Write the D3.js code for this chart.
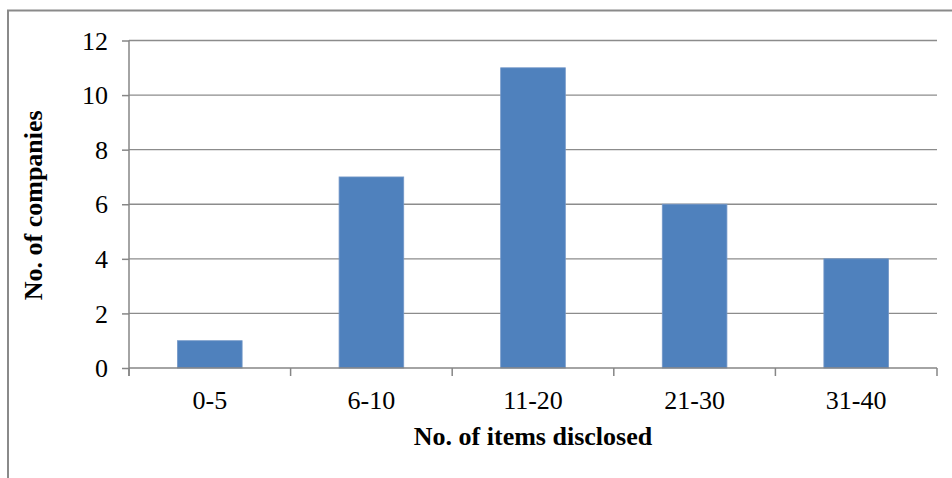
<!DOCTYPE html>
<html>
<head>
<meta charset="utf-8">
<script src="https://cdn.jsdelivr.net/npm/d3@7"></script>
<style>
  html, body { margin: 0; padding: 0; background: #fff; }
  svg { display: block; }
  text { font-family: "Liberation Serif", "Times New Roman", serif; fill: #000; }
</style>
</head>
<body>
<svg id="chart" width="952" height="478"></svg>
<script>
const categories = ["0-5", "6-10", "11-20", "21-30", "31-40"];
const values = [1, 7, 11, 6, 4];
const yTicks = [0, 2, 4, 6, 8, 10, 12];
const xTitle = "No. of items disclosed";
const yTitle = "No. of companies";

(function () {
const svg = d3.select("#chart");
const pLeft = 129, pRight = 937, pTop = 40.5, pBottom = 368;

// outer chart border (cropped at right/bottom)
svg.append("rect")
  .attr("x", 8).attr("y", 10.5)
  .attr("width", 960).attr("height", 500)
  .attr("fill", "none").attr("stroke", "#8a8a8a").attr("stroke-width", 2);

const x = d3.scaleBand().domain(categories).range([pLeft, pRight]).paddingInner(0).paddingOuter(0);
const y = d3.scaleLinear().domain([0, 12]).range([pBottom, pTop]);

// gridlines
svg.append("g").selectAll("line").data(yTicks.filter(d => d > 0)).join("line")
  .attr("x1", pLeft).attr("x2", pRight)
  .attr("y1", d => y(d)).attr("y2", d => y(d))
  .attr("stroke", "#8c8c8c").attr("stroke-width", 1.3);

// bars
const barW = x.bandwidth() / 2.5;
svg.append("g").selectAll("rect").data(values).join("rect")
  .attr("x", (d, i) => x(categories[i]) + (x.bandwidth() - barW) / 2)
  .attr("y", d => y(d))
  .attr("width", barW)
  .attr("height", d => y(0) - y(d))
  .attr("fill", "#4F81BD")
  .attr("stroke", "#7397c8").attr("stroke-width", 0.8);

// y axis
const yAxis = d3.axisLeft(y).tickValues(yTicks).tickSize(7).tickPadding(14);
const gy = svg.append("g").attr("transform", `translate(${pLeft},0)`).call(yAxis);
gy.select(".domain").attr("stroke", "#868686").attr("stroke-width", 1.5).attr("d", `M0,${pTop}V${pBottom + 8}`);
gy.selectAll(".tick line").attr("stroke", "#868686").attr("stroke-width", 1.5);
gy.selectAll(".tick text").attr("font-size", 26).attr("font-family", "Liberation Serif").attr("fill", "#000").attr("dy", "0.33em");

// x axis
const xAxis = d3.axisBottom(x).tickSize(0).tickPadding(23);
const gx = svg.append("g").attr("transform", `translate(0,${pBottom})`).call(xAxis);
gx.select(".domain").attr("stroke", "#868686").attr("stroke-width", 1.5).attr("d", `M${pLeft},0H${pRight}`);
gx.selectAll(".tick text").attr("font-size", 26).attr("font-family", "Liberation Serif").attr("fill", "#000");
// boundary ticks
const bounds = categories.map(c => x(c)).concat([pRight]);
gx.append("g").selectAll("line").data(bounds).join("line")
  .attr("x1", d => d).attr("x2", d => d).attr("y1", 0).attr("y2", 8)
  .attr("stroke", "#868686").attr("stroke-width", 1.5);

// titles
svg.append("text")
  .attr("x", (pLeft + pRight) / 2).attr("y", 445)
  .attr("text-anchor", "middle")
  .attr("font-size", 26).attr("font-weight", "bold")
  .text(xTitle);

svg.append("text")
  .attr("transform", `translate(42,${(pTop + pBottom) / 2 + 1}) rotate(-90)`)
  .attr("text-anchor", "middle")
  .attr("font-size", 26).attr("font-weight", "bold")
  .text(yTitle);
})();
</script>
</body>
</html>
